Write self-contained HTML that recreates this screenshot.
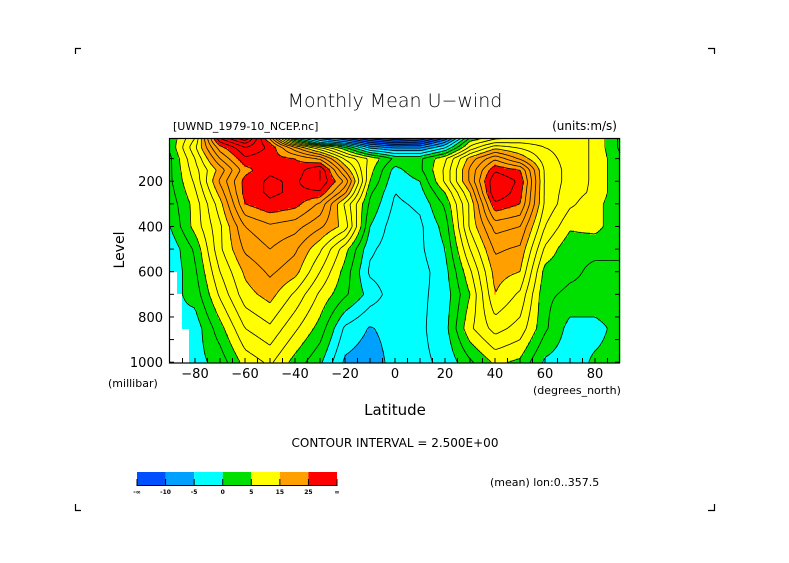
<!DOCTYPE html>
<html><head><meta charset="utf-8"><style>
html,body{margin:0;padding:0;background:#fff;}
svg text{font-family:"DejaVu Sans","Liberation Sans",sans-serif;fill:#000;}
</style></head><body>
<svg id="chart" xmlns="http://www.w3.org/2000/svg" width="789" height="558" viewBox="0 0 789 558">
<rect width="789" height="558" fill="#fff"/>
<g stroke="#000" stroke-width="1.2" fill="none">
<path d="M75.5 54V48.5H81"/><path d="M708 48.5H714.5V54"/><path d="M75.5 504V510.5H81"/><path d="M708 510.5H714.5V504"/>
</g>
<text x="395" y="107" font-size="19" text-anchor="middle" font-weight="200">Monthly Mean U−wind</text>
<text x="173" y="130" font-size="11">[UWND_1979-10_NCEP.nc]</text>
<text x="617" y="130" font-size="12" text-anchor="end">(units:m/s)</text>
<g id="field"></g>
<g id="contours" fill="none" stroke="#000" stroke-width="0.8"></g>
<g id="mask" fill="#fff">
<rect x="170" y="272" width="7" height="22"/><rect x="170" y="294" width="12" height="35"/><rect x="170" y="329" width="19" height="34"/>
</g>
<rect x="169.5" y="138.5" width="450" height="224.5" fill="none" stroke="#000" stroke-width="1.2"/>
<g id="axes"></g>
<text transform="translate(124,250) rotate(-90)" font-size="14" text-anchor="middle">Level</text>
<text x="108" y="387" font-size="11">(millibar)</text>
<text x="533" y="394" font-size="11">(degrees_north)</text>
<text x="395" y="415" font-size="15" text-anchor="middle">Latitude</text>
<text x="395" y="447" font-size="12" text-anchor="middle">CONTOUR INTERVAL = 2.500E+00</text>
<g id="legend"></g>
<text x="490" y="486" font-size="11">(mean) lon:0..357.5</text>
</svg>
<script>
const lats=[-90,-80,-70,-60,-50,-40,-30,-20,-10,0,10,20,30,40,50,60,70,80,90];
const levels=[10,30,50,100,150,200,250,300,400,500,600,700,850,1000];
const u10  =[3,10,30,37,22,0,-8,-12,-18,-22,-20,-12,3,7,8,9,9,7,2];
const u30  =[3,11,27,33,25,9,-2,-6,-12,-15,-14,-7,6,10,10,9,9,7,2];
const u50  =[3,12,24,30,27,18,10,3,-6,-8,-8,-3,8,14,12,10,9,7,2];
const u100 =[2,10,20,27,26,25,22,12,7,2,2,7,16,22,17,11,9,7,3];
const u150 =[2,9,16,24,27,26,30,17,6,-1,2,8,18,27,25,12,9,7,3];
const u200 =[2,8,18,26,28,27,30,22,5,-2,0,8,18,30,27,12,9,7,3];
const u250 =[1.5,7,16,26,28,27,27,18,3,-2.5,-1,5,15,30,26,12,8.5,7,3];
const u300 =[1,6,14,25,27,26,22,12,2,-3,-2,3,13,27,25,12,8,6,3];
const u400 =[0,6,12,20,22,21,18,14,0,-4,-3,1,13,21,20,10,5.5,6,3];
const u500 =[-2,3,12,18,20,18,13,6,-2,-4,-3,0,10,18,17,7,3,3,3];
const u600 =[-2,2,10,15.5,18,16,10,4,-3,-4,-3.5,-1,7,16,15,4,3,2,2];
const u700 =[-1,1,8,14,16,12,7,3,-1,-4,-3,-1.5,5,15,12,3,2,2,2];
const u850 =[0,-1.5,4,10,12,8,4,-3,-5.2,-4,-3,-1,7,11,9,3,-1,-1,1];
const u1000=[0,-1,1,6,8,4,0.5,-5.5,-6.5,-4,-3,-2,2,5.5,4.5,-0.5,-1.5,0.5,1];
const fieldRows=[u10,u30,u50,u100,u150,u200,u250,u300,u400,u500,u600,u700,u850,u1000];
const yTicks=[200,400,600,800,1000];
const xTicks=[-80,-60,-40,-20,0,20,40,60,80];
const legendBounds=["-∞","-10","-5","0","5","15","25","∞"];
const legendThresholds=[-10,-5,0,5,15,25];
const legendColors=["#0050ff","#00a0ff","#00ffff","#00e000","#ffff00","#ffa000","#ff0000"];

const NS="http://www.w3.org/2000/svg";
const X0=170,X1=620,Y0=138.5,Y1=362.5;
function xs(lat){return X0+(lat+90)/180*(X1-X0);}
function ys(p){return 136+p*0.2262;}
function pOfY(y){return (y-136)/0.2262;}
function latOfX(x){return (x-X0)/(X1-X0)*180-90;}
function mk(tag,attrs,parent){const e=document.createElementNS(NS,tag);for(const k in attrs)e.setAttribute(k,attrs[k]);parent.appendChild(e);return e;}
function val(lat,p){
  p=Math.max(10,Math.min(1000,p));lat=Math.max(-90,Math.min(90,lat));
  let j=0;while(j<levels.length-2&&p>levels[j+1])j++;
  const tp=(p-levels[j])/(levels[j+1]-levels[j]);
  let i=Math.min(17,Math.floor((lat+90)/10));const tl=(lat-lats[i])/10;
  const a=fieldRows[j][i]*(1-tl)+fieldRows[j][i+1]*tl;
  const b=fieldRows[j+1][i]*(1-tl)+fieldRows[j+1][i+1]*tl;
  return a*(1-tp)+b*tp;
}
function colorOf(v){let k=0;while(k<legendThresholds.length&&v>=legendThresholds[k])k++;return legendColors[k];}
const S=2,NX=Math.round((X1-X0)/S),NY=Math.ceil((Y1-Y0)/S);
const grid=[];
for(let r=0;r<=NY;r++){const row=[];const y=Math.min(Y1,Y0+r*S);for(let c=0;c<=NX;c++)row.push(val(latOfX(X0+c*S),pOfY(y)));grid.push(row);}
const field=document.getElementById('field');
for(let r=0;r<NY;r++){
  const y=Y0+r*S,h=Math.min(S,Y1-y);let start=0;
  let cur=colorOf(val(latOfX(X0+S/2),pOfY(y+h/2)));
  for(let c=1;c<=NX;c++){
    const col=c<NX?colorOf(val(latOfX(X0+c*S+S/2),pOfY(y+h/2))):null;
    if(col!==cur){
      const rc=mk('rect',{x:X0+start*S,y:y,width:(c-start)*S+0.3,height:h+0.3,fill:cur},field);
      
      
      start=c;cur=col;
    }
  }
}
const cg=document.getElementById('contours');
for(let lv=-30;lv<=40;lv+=2.5){
  let d="";
  for(let r=0;r<NY;r++){const y0=Math.min(Y1,Y0+r*S),y1=Math.min(Y1,Y0+(r+1)*S);
    for(let c=0;c<NX;c++){
      const x0=X0+c*S,x1=x0+S;
      const a=grid[r][c],b=grid[r][c+1],cc=grid[r+1][c+1],dd=grid[r+1][c];
      const pts=[];
      function e(v1,v2,p1,p2){if((v1<lv)!==(v2<lv)){const t=(lv-v1)/(v2-v1);pts.push([p1[0]+(p2[0]-p1[0])*t,p1[1]+(p2[1]-p1[1])*t]);}}
      e(a,b,[x0,y0],[x1,y0]);e(b,cc,[x1,y0],[x1,y1]);e(cc,dd,[x1,y1],[x0,y1]);e(dd,a,[x0,y1],[x0,y0]);
      for(let k=0;k+1<pts.length;k+=2)d+="M"+pts[k][0].toFixed(1)+" "+pts[k][1].toFixed(1)+"L"+pts[k+1][0].toFixed(1)+" "+pts[k+1][1].toFixed(1);
    }}
  if(d){const p=mk('path',{d:d},cg);
    
    
    if(lv<0)p.setAttribute('stroke-dasharray','3 2');}
}
const ax=document.getElementById('axes');
for(let p=100;p<=1000;p+=100){const y=ys(p);mk('line',{x1:169.5,x2:174,y1:y,y2:y,stroke:'#000'},ax);mk('line',{x1:615,x2:619.5,y1:y,y2:y,stroke:'#000'},ax);}
yTicks.forEach(p=>{const t=mk('text',{x:163,y:ys(p)+5,'font-size':13,'text-anchor':'end'},ax);t.textContent=p;
  });
for(let l=-85;l<=85;l+=5){const x=xs(l);mk('line',{x1:x,x2:x,y1:358,y2:363,stroke:'#000'},ax);}
xTicks.forEach(l=>{const t=mk('text',{x:xs(l),y:378,'font-size':13,'text-anchor':'middle'},ax);t.textContent=(l<0?'−':'')+Math.abs(l);
  });
const lg=document.getElementById('legend');
const LX=137,LW=200/legendColors.length;
legendColors.forEach((c,i)=>{const r=mk('rect',{x:LX+i*LW,y:472,width:LW,height:13,fill:c},lg);
  });
mk('line',{x1:LX,x2:LX+200,y1:485.5,y2:485.5,stroke:'#000'},lg);
legendBounds.forEach((s,i)=>{const x=LX+i*LW;mk('line',{x1:x,x2:x,y1:479,y2:486,stroke:'#000'},lg);
  const t=mk('text',{x:x,y:494,'font-size':6,'text-anchor':'middle','font-weight':'bold'},lg);t.textContent=s;
  });
</script>
</body></html>
